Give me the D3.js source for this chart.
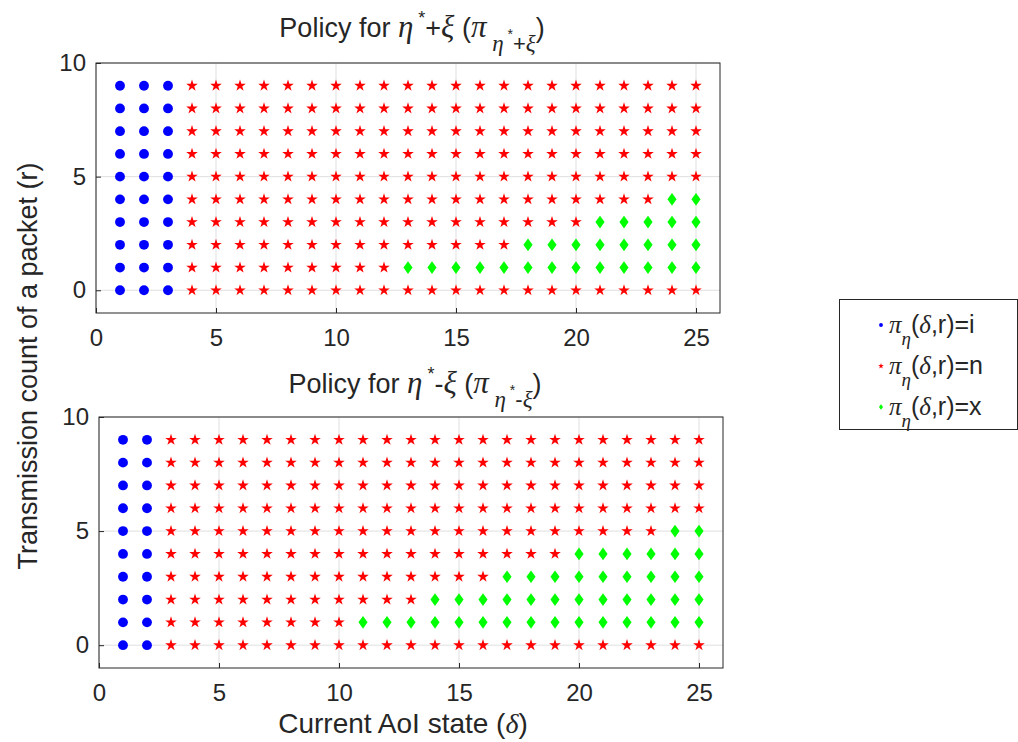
<!DOCTYPE html>
<html lang="en">
    <head>
        <meta charset="utf-8">
        <title>Policy maps</title>
        <script type="text/javascript" src="https://cdn.jsdelivr.net/npm/d3@7"></script>
        <style type="text/css">
            body { margin: 0; background: #fff; }
            text { font-family: "Liberation Sans", Arial, sans-serif; fill: #262626; }
            .gr { font-family: "Liberation Serif", "DejaVu Serif", serif; font-style: italic; }
        </style>
    </head>
    <body>
        <script type="text/javascript">

            //Width and height
            var w = 1018;
            var h = 742;

            // AoI states and transmission counts
            var deltas = [1,2,3,4,5,6,7,8,9,10,11,12,13,14,15,16,17,18,19,20,21,22,23,24,25];
            var counts = [0,1,2,3,4,5,6,7,8,9];

            // last delta with action i, per plot
            var idleEnd = [3, 2];
            // first delta with action x for each r (null = none), per plot
            var dropStartTop    = [null, 13, 18, 21, 24, null, null, null, null, null];
            var dropStartBottom = [null, 11, 14, 17, 20, 24, null, null, null, null];

            var xTicks = [0, 5, 10, 15, 20, 25];
            var yTicks = [0, 5, 10];

            var panels = [
                { left: 96, right: 720, top: 63, bottom: 313, drop: dropStartTop, idle: idleEnd[0], sign: "+", titleY: 37 },
                { left: 99, right: 723, top: 417, bottom: 668, drop: dropStartBottom, idle: idleEnd[1], sign: "-", titleY: 393 }
            ];

            var svg = d3.select("body")
                        .append("svg")
                        .attr("width", w)
                        .attr("height", h);

            var diamond = {
                draw: function(ctx, size) {
                    var hh = Math.sqrt(size) * 0.7, ww = hh * 0.72;
                    ctx.moveTo(0, -hh); ctx.lineTo(ww, 0); ctx.lineTo(0, hh); ctx.lineTo(-ww, 0); ctx.closePath();
                }
            };

            function action(p, d, r) {
                if (d <= p.idle) return "i";
                if (p.drop[r] !== null && d >= p.drop[r]) return "x";
                return "n";
            }

            panels.forEach(function(p) {
                var x = d3.scaleLinear().domain([0, 26]).range([p.left, p.right]);
                var y = d3.scaleLinear().domain([-1, 10]).range([p.bottom, p.top]);
                var g = svg.append("g");

                // grid
                g.selectAll(".gx").data(xTicks).enter().append("line")
                    .attr("x1", d => x(d)).attr("x2", d => x(d))
                    .attr("y1", p.top).attr("y2", p.bottom)
                    .style("stroke", "#dfdfdf").style("stroke-width", 1);
                g.selectAll(".gy").data(yTicks).enter().append("line")
                    .attr("x1", p.left).attr("x2", p.right)
                    .attr("y1", d => y(d)).attr("y2", d => y(d))
                    .style("stroke", "#dfdfdf").style("stroke-width", 1);

                // points
                var pts = [];
                counts.forEach(function(r) {
                    deltas.forEach(function(d) { pts.push({ d: d, r: r, a: action(p, d, r) }); });
                });
                g.selectAll(".pt").data(pts).enter().append("path")
                    .attr("transform", d => "translate(" + x(d.d) + "," + y(d.r) + ")")
                    .attr("d", function(d) {
                        if (d.a == "i") return d3.symbol(d3.symbolCircle, 76)();
                        if (d.a == "x") return d3.symbol(diamond, 82)();
                        return d3.symbol(d3.symbolStar, 42)();
                    })
                    .attr("fill", d => d.a == "i" ? "#0000ff" : (d.a == "x" ? "#00ff00" : "#ff0000"));

                // axes (MATLAB style inward ticks)
                var xa = d3.axisBottom(x).tickValues(xTicks).tickSize(-5).tickPadding(16);
                var ya = d3.axisLeft(y).tickValues(yTicks).tickSize(-5).tickPadding(10);
                var gx = g.append("g").attr("transform", "translate(0," + p.bottom + ")").call(xa);
                var gy = g.append("g").attr("transform", "translate(" + p.left + ",0)").call(ya);
                [gx, gy].forEach(function(a) {
                    a.select(".domain").remove();
                    a.selectAll("line").attr("stroke", "#262626");
                    a.selectAll("text").style("font-size", "24px").attr("fill", "#262626")
                        .style("font-family", "'Liberation Sans', Arial, sans-serif");
                });
                g.append("rect").attr("x", p.left).attr("y", p.top)
                    .attr("width", p.right - p.left).attr("height", p.bottom - p.top)
                    .attr("fill", "none").style("stroke", "#262626");

                // title
                var t = svg.append("text")
                    .attr("x", (p.left + p.right) / 2 + 4).attr("y", p.titleY)
                    .attr("text-anchor", "middle")
                    .style("font-size", "27px");
                t.append("tspan").text("Policy for ");
                t.append("tspan").attr("class", "gr").style("font-size", "31px").text("η");
                t.append("tspan").attr("dy", -13).style("font-size", "18px").text(" *");
                t.append("tspan").attr("dy", 13).text(p.sign);
                t.append("tspan").attr("class", "gr").style("font-size", "31px").text("ξ");
                t.append("tspan").text(" (");
                t.append("tspan").attr("class", "gr").style("font-size", "31px").text("π");
                t.append("tspan").attr("class", "gr").attr("dy", 14).style("font-size", "23px").text(" η");
                t.append("tspan").attr("dy", -12).style("font-size", "14px").text(" *");
                t.append("tspan").attr("dy", 12).style("font-size", "22px").text(p.sign);
                t.append("tspan").attr("class", "gr").style("font-size", "23px").text("ξ");
                t.append("tspan").attr("dy", -14).text(")");
            });

            // axis labels
            var xl = svg.append("text").attr("x", 403).attr("y", 733).attr("text-anchor", "middle")
                .style("font-size", "28px");
            xl.append("tspan").text("Current AoI state (");
            xl.append("tspan").attr("class", "gr").text("δ");
            xl.append("tspan").text(")");

            svg.append("text")
                .attr("transform", "translate(37,366) rotate(-90)")
                .attr("text-anchor", "middle")
                .style("font-size", "27px")
                .text("Transmission count of a packet (r)");

            // legend
            var legendItems = ["i", "n", "x"];
            svg.append("rect").attr("x", 839.5).attr("y", 299.5).attr("width", 178).attr("height", 130)
                .attr("fill", "#fff").attr("stroke", "#262626");
            var lg = svg.selectAll(".lg").data(legendItems).enter().append("g")
                .attr("transform", (d, i) => "translate(881," + (325 + i * 41) + ")");
            lg.append("path")
                .attr("d", function(d) {
                    if (d == "i") return d3.symbol(d3.symbolCircle, 12)();
                    if (d == "x") return d3.symbol(diamond, 16)();
                    return d3.symbol(d3.symbolStar, 10)();
                })
                .attr("fill", d => d == "i" ? "#0000ff" : (d == "x" ? "#00ff00" : "#ff0000"));
            var lt = lg.append("text").attr("x", 8).attr("y", 8).style("font-size", "25px");
            lt.append("tspan").attr("class", "gr").text("π");
            lt.append("tspan").attr("class", "gr").attr("dy", 12).style("font-size", "19px").text("η");
            lt.append("tspan").attr("dy", -12).text("(");
            lt.append("tspan").attr("class", "gr").text("δ");
            lt.append("tspan").text(d => ",r)=" + d);

        </script>
    </body>
</html>
